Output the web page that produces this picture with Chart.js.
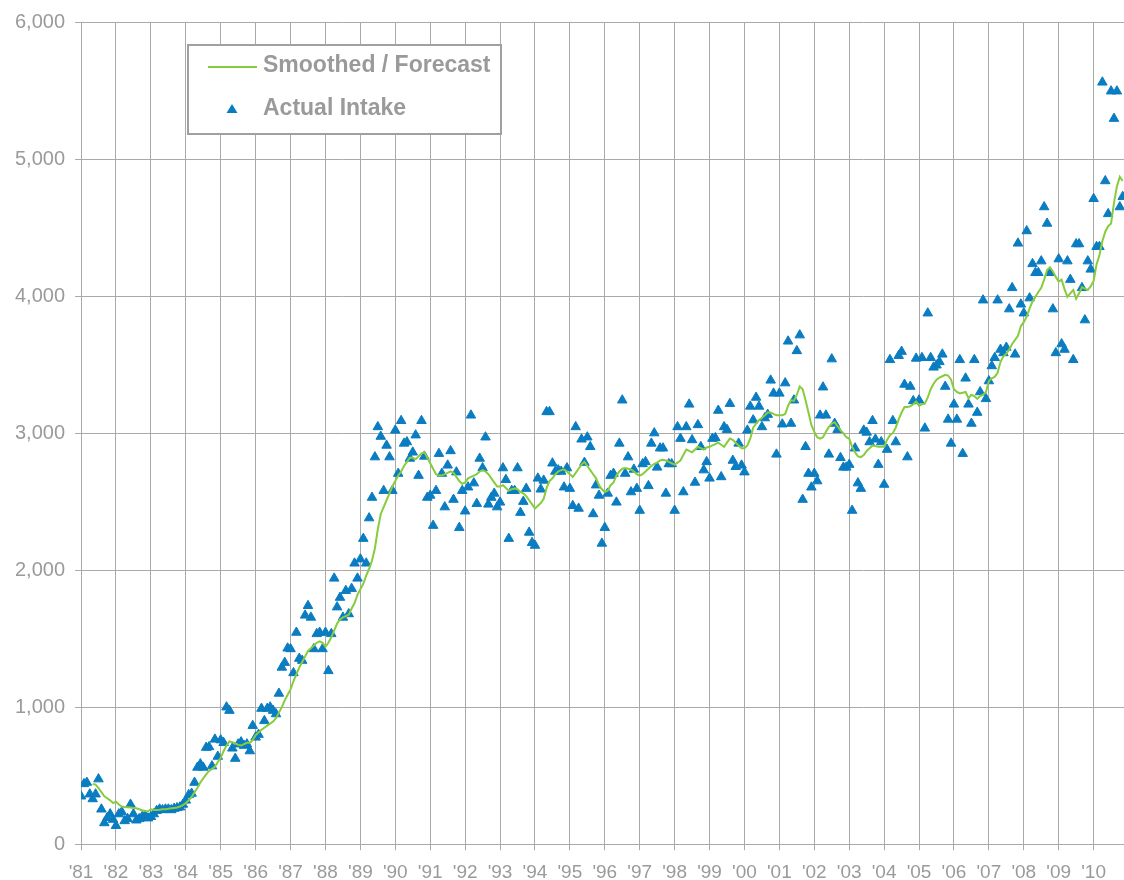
<!DOCTYPE html>
<html>
<head>
<meta charset="utf-8">
<script src="https://cdn.jsdelivr.net/npm/chart.js@4.4.1/dist/chart.umd.min.js"></script>
<style>
  html, body { margin: 0; padding: 0; background: #fff; }
  #wrap { width: 1124px; height: 880px; position: relative; overflow: hidden; }
</style>
</head>
<body>
<div id="wrap"><canvas id="intakeChart" width="1124" height="880"></canvas></div>
<script>
// monthly series, first value = Jan 1981
const startYear = 1981;

const actualIntake = [
  350, 440, 450, 365, 330, 365, 475, 255, 155, 193, 220, 180,        // '81
  135, 220, 235, 170, 185, 290, 220, 175, 185, 200, 210, 190,        // '82
  200, 220, 245, 255, 250, 255, 255, 250, 260, 265, 270, 290,        // '83
  320, 360, 370, 450, 560, 585, 560, 705, 710, 570, 765, 640,        // '84
  760, 740, 1000, 975, 700, 625, 730, 745, 720, 730, 680, 865,       // '85
  780, 800, 990, 900, 990, 1000, 975, 950, 1100, 1290, 1325, 1430,   // '86
  1425, 1250, 1545, 1355, 1340, 1670, 1740, 1655, 1425, 1535, 1545, 1425, // '87
  1545, 1265, 1535, 1940, 1730, 1800, 1655, 1850, 1680, 1865, 2050, 1940, // '88
  2080, 2230, 2050, 2380, 2530, 2825, 3045, 2975, 2580, 2910, 2825, 2580, // '89
  3020, 2705, 3090, 2925, 2935, 2815, 2860, 2985, 2690, 3090, 2830, 2530, // '90
  2545, 2325, 2580, 2850, 2705, 2460, 2765, 2870, 2515, 2715, 2310, 2580, // '91
  2430, 2605, 3130, 2635, 2485, 2815, 2745, 2970, 2480, 2530, 2560, 2460, // '92
  2495, 2745, 2660, 2230, 2580, 2580, 2745, 2420, 2500, 2595, 2275, 2200, // '93
  2180, 2670, 2590, 2655, 3155, 3155, 2780, 2720, 2730, 2720, 2605, 2745, // '94
  2595, 2470, 3045, 2450, 2955, 2785, 2970, 2900, 2410, 2620, 2545, 2195, // '95
  2310, 2560, 2690, 2705, 2495, 2925, 3240, 2705, 2825, 2570, 2735, 2595, // '96
  2435, 2775, 2790, 2615, 2925, 3000, 2750, 2890, 2890, 2560, 2775, 2775, // '97
  2435, 3045, 2960, 2570, 3045, 3210, 2950, 2640, 3060, 2900, 2730, 2790, // '98
  2670, 2960, 2965, 3165, 2680, 3045, 3025, 3215, 2800, 2755, 2925, 2765, // '99
  2715, 3020, 3195, 3095, 3260, 3195, 3045, 3110, 3135, 3385, 3290, 2845, // '00
  3290, 3065, 3365, 3670, 3070, 3240, 3600, 3715, 2515, 2900, 2705, 2605, // '01
  2705, 2650, 3130, 3335, 3130, 2845, 3540, 3070, 3025, 2820, 2750, 2750, // '02
  2770, 2435, 2890, 2635, 2595, 3020, 3005, 2935, 3090, 2955, 2770, 2935, // '03
  2625, 2880, 3535, 3090, 2935, 3565, 3595, 3355, 2825, 3340, 3235, 3545, // '04
  3240, 3550, 3035, 3875, 3550, 3480, 3495, 3520, 3575, 3340, 3100, 2925, // '05
  3210, 3100, 3535, 2850, 3400, 3210, 3070, 3535, 3150, 3300, 3970, 3250, // '06
  3380, 3490, 3550, 3970, 3610, 3585, 3625, 3905, 4060, 3575, 4385, 3940, // '07
  3875, 4475, 3985, 4235, 4170, 4170, 4255, 4650, 4530, 4170, 3905, 3585, // '08
  4270, 3650, 3610, 4255, 4120, 3535, 4380, 4380, 4060, 3825, 4255, 4195, // '09
  4710, 4360, 4360, 5560, 4840, 4600, 5495, 5295, 5495, 4650, 4725        // '10
];

const smoothedForecast = [
  null, null, null, null, 440, 435, 410, 380, 350, 335, 320, 300,   // '81
  310, 290, 275, 272, 270, 268, 265, 262, 255, 248, 243, 240,       // '82
  255, 250, 250, 252, 255, 255, 258, 262, 265, 268, 275, 285,       // '83
  300, 320, 345, 380, 410, 450, 480, 510, 535, 550, 565, 600,       // '84
  630, 680, 720, 750, 745, 735, 725, 720, 730, 740, 740, 760,       // '85
  795, 815, 835, 850, 865, 880, 895, 920, 960, 1000, 1050, 1090,    // '86
  1130, 1190, 1240, 1290, 1330, 1370, 1410, 1430, 1450, 1470, 1480, 1470, // '87
  1440, 1470, 1510, 1560, 1610, 1640, 1655, 1665, 1675, 1720, 1760, 1820, // '88
  1860, 1900, 1960, 2010, 2070, 2160, 2300, 2410, 2460, 2510, 2560, 2610, // '89
  2650, 2690, 2720, 2760, 2790, 2820, 2820, 2810, 2830, 2850, 2860, 2820, // '90
  2780, 2740, 2700, 2690, 2690, 2700, 2710, 2720, 2710, 2680, 2650, 2630, // '91
  2640, 2670, 2680, 2690, 2700, 2720, 2730, 2720, 2700, 2670, 2640, 2610, // '92
  2610, 2620, 2600, 2580, 2590, 2595, 2590, 2570, 2560, 2540, 2510, 2480, // '93
  2450, 2470, 2490, 2520, 2600, 2650, 2670, 2700, 2720, 2730, 2735, 2720, // '94
  2700, 2680, 2710, 2740, 2770, 2790, 2760, 2730, 2700, 2670, 2620, 2590, // '95
  2570, 2580, 2620, 2640, 2690, 2720, 2740, 2745, 2740, 2735, 2720, 2700, // '96
  2690, 2700, 2720, 2740, 2760, 2775, 2785, 2800, 2805, 2800, 2790, 2780, // '97
  2770, 2785, 2800, 2840, 2880, 2870, 2860, 2880, 2900, 2890, 2880, 2895, // '98
  2900, 2910, 2920, 2930, 2915, 2900, 2930, 2960, 2950, 2930, 2910, 2890, // '99
  2890, 2910, 2960, 3040, 3070, 3095, 3110, 3130, 3150, 3150, 3140, 3130, // '00
  3130, 3130, 3140, 3200, 3240, 3235, 3280, 3340, 3320, 3240, 3150, 3060, // '01
  3010, 2970, 2960, 2970, 3010, 3045, 3070, 3080, 3050, 3020, 3000, 2970, // '02
  2960, 2900, 2860, 2830, 2825, 2840, 2870, 2890, 2910, 2905, 2900, 2900, // '03
  2900, 2950, 2985, 3000, 3040, 3100, 3150, 3190, 3190, 3195, 3210, 3230, // '04
  3200, 3210, 3215, 3260, 3320, 3360, 3390, 3405, 3415, 3425, 3420, 3390, // '05
  3320, 3300, 3290, 3295, 3300, 3255, 3280, 3270, 3250, 3270, 3280, 3300, // '06
  3380, 3400, 3410, 3440, 3520, 3560, 3580, 3610, 3650, 3680, 3710, 3780, // '07
  3810, 3850, 3910, 3960, 3995, 4030, 4060, 4120, 4190, 4210, 4180, 4140, // '08
  4105, 4120, 4050, 3995, 4020, 4045, 3980, 4020, 4065, 4055, 4045, 4070, // '09
  4110, 4230, 4300, 4400, 4470, 4510, 4530, 4680, 4800, 4870, 4840        // '10
];

const yTicks = [0, 1000, 2000, 3000, 4000, 5000, 6000];
const seriesNames = ['Smoothed / Forecast', 'Actual Intake'];

const GREEN = '#86cc3c';
const BLUE = '#0a7cc1';
const GRID = '#a9a9a9';
const TEXT = '#9a9a9a';

const toPoints = arr => arr.map((v, i) => ({ x: startYear + i / 12, y: v }));

// legend box drawn inside the plot, like the original
const boxLegend = {
  id: 'boxLegend',
  afterDraw(chart) {
    const ctx = chart.ctx;
    const x = 188, y = 45, w = 313, h = 89;
    ctx.save();
    ctx.fillStyle = '#fff';
    ctx.fillRect(x, y, w, h);
    ctx.strokeStyle = '#a0a0a0';
    ctx.lineWidth = 2;
    ctx.strokeRect(x, y, w, h);

    ctx.strokeStyle = GREEN;
    ctx.lineWidth = 2;
    ctx.beginPath();
    ctx.moveTo(208, 67);
    ctx.lineTo(257, 67);
    ctx.stroke();

    // triangle marker
    ctx.fillStyle = BLUE;
    ctx.beginPath();
    ctx.moveTo(232, 104);
    ctx.lineTo(237.5, 113);
    ctx.lineTo(226.5, 113);
    ctx.closePath();
    ctx.fill();

    ctx.fillStyle = TEXT;
    ctx.font = 'bold 23px "Liberation Sans", Arial, sans-serif';
    ctx.textBaseline = 'middle';
    ctx.textAlign = 'left';
    ctx.fillText(seriesNames[0], 263, 66);
    ctx.fillText(seriesNames[1], 263, 109);
    ctx.restore();
  }
};

new Chart(document.getElementById('intakeChart'), {
  type: 'scatter',
  data: {
    datasets: [
      {
        type: 'line',
        label: seriesNames[0],
        data: toPoints(smoothedForecast),
        borderColor: GREEN,
        borderWidth: 2,
        pointRadius: 0,
        tension: 0,
        fill: false,
        spanGaps: false,
        order: 0
      },
      {
        label: seriesNames[1],
        data: toPoints(actualIntake),
        pointStyle: 'triangle',
        pointRadius: 5.5,
        backgroundColor: BLUE,
        borderColor: BLUE,
        borderWidth: 1,
        order: 1
      }
    ]
  },
  options: {
    responsive: false,
    devicePixelRatio: 1,
    animation: false,
    layout: { autoPadding: false, padding: { top: 14, left: 5, right: 0, bottom: -15 } },
    plugins: {
      legend: { display: false },
      tooltip: { enabled: false }
    },
    scales: {
      x: {
        type: 'linear',
        min: startYear,
        max: 2010.87,
        grid: { color: GRID, tickLength: 6 },
        border: { color: GRID },
        afterFit: axis => { axis.paddingRight = 0; axis.paddingLeft = 0; },
        ticks: {
          stepSize: 1,
          includeBounds: false,
          autoSkip: false,
          maxRotation: 0,
          padding: 11,
          color: TEXT,
          font: { family: '"Liberation Sans", Arial, sans-serif', size: 19 },
          callback: v => Number.isInteger(v) ? "'" + String(v).slice(2) : ''
        }
      },
      y: {
        min: yTicks[0],
        max: yTicks[yTicks.length - 1],
        grid: { color: GRID, tickLength: 6 },
        border: { color: GRID },
        afterBuildTicks: axis => { axis.ticks = yTicks.map(v => ({ value: v })); },
        ticks: {
          padding: 10,
          color: TEXT,
          font: { family: '"Liberation Sans", Arial, sans-serif', size: 20 },
          callback: v => v.toLocaleString('en-US')
        }
      }
    }
  },
  plugins: [boxLegend]
});
</script>
</body>
</html>
